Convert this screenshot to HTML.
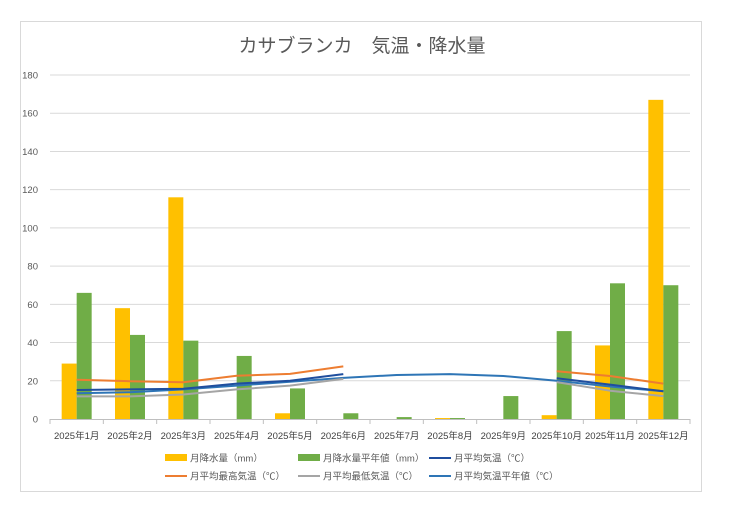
<!DOCTYPE html>
<html><head><meta charset="utf-8"><style>
html,body{margin:0;padding:0;background:#fff}
svg{display:block;font-family:"Liberation Sans","Noto Sans CJK JP",sans-serif}
</style></head><body>
<svg id="c" width="730" height="506" viewBox="0 0 730 506" xmlns="http://www.w3.org/2000/svg">
<rect x="20.5" y="21.5" width="681" height="470" fill="#fff" stroke="#d9d9d9"/>
<text x="362" y="52" font-size="19" fill="#595959" text-anchor="middle">カサブランカ　気温・降水量</text>
<g id="g"></g>
</svg>
<script>
var g=document.getElementById('g'),ns='http://www.w3.org/2000/svg',h='';
var X0=50,W=640/12,Y0=419,S=(419-75)/180;
function y(v){return Y0-v*S}
for(var v=0;v<=180;v+=20){
 if(v>0)h+='<line x1="50" x2="690" y1="'+y(v)+'" y2="'+y(v)+'" stroke="#d9d9d9"/>';
 h+='<text x="38" y="'+(y(v)+3.5)+'" font-size="9.5" fill="#595959" text-anchor="end">'+v+'</text>';
}
h+='<line x1="50" x2="690" y1="419.5" y2="419.5" stroke="#bfbfbf"/>';
for(var i=0;i<=12;i++){var xx=X0+i*W;h+='<line x1="'+xx+'" x2="'+xx+'" y1="419" y2="424" stroke="#bfbfbf"/>';}
var p=[29,58,116,0,3,0,0,0.5,0,2,38.5,167],n=[66,44,41,33,16,3,1,0.5,12,46,71,70];
for(var i=0;i<12;i++){var c=X0+(i+.5)*W;
 if(p[i]>0)h+='<rect x="'+(c-15)+'" y="'+y(p[i])+'" width="15" height="'+(p[i]*S)+'" fill="#ffc000"/>';
 h+='<rect x="'+c+'" y="'+y(n[i])+'" width="15" height="'+(n[i]*S)+'" fill="#70ad47"/>';
 h+='<text x="'+c+'" y="439" font-size="9.5" fill="#404040" text-anchor="middle">2025年'+(i+1)+'月</text>';
}
function line(d,col,w){var seg=[],out='';
 for(var i=0;i<=12;i++){if(i<12&&d[i]!=null)seg.push((X0+(i+.5)*W).toFixed(1)+','+y(d[i]).toFixed(1));
  else{if(seg.length>1)out+='<polyline points="'+seg.join(' ')+'" fill="none" stroke="'+col+'" stroke-width="'+w+'" stroke-linejoin="round"/>';seg=[];}}
 return out;}
var N=null;
h+=line([13.5,14,15.5,17.5,19.5,21.5,23,23.5,22.5,20,17,14.5],'#2e75b6',2);
h+=line([11.8,11.8,12.8,15.5,17.5,21,N,N,N,19.3,14.8,12],'#a5a5a5',2);
h+=line([20.5,19.8,19.2,22.6,23.6,27.5,N,N,N,25,22.5,18.5],'#ed7d31',2);
h+=line([15.2,15.5,15.8,18.5,20,23.5,N,N,N,21.3,18,14.5],'#1f4e9e',2);
// legend
function lg(x,yy,t,col,bar){
 h+=bar?'<rect x="'+x+'" y="'+(yy-4)+'" width="22" height="7" fill="'+col+'"/>':'<line x1="'+x+'" x2="'+(x+22)+'" y1="'+yy+'" y2="'+yy+'" stroke="'+col+'" stroke-width="2"/>';
 h+='<text x="'+(x+25)+'" y="'+(yy+3.5)+'" font-size="9.5" fill="#595959">'+t+'</text>';}
lg(165,458,'月降水量（mm）','#ffc000',1);
lg(298,458,'月降水量平年値（mm）','#70ad47',1);
lg(429,458,'月平均気温（℃）','#1f4e9e',0);
lg(165,476,'月平均最高気温（℃）','#ed7d31',0);
lg(298,476,'月平均最低気温（℃）','#a5a5a5',0);
lg(429,476,'月平均気温平年値（℃）','#2e75b6',0);
g.innerHTML=h;
</script>
</body></html>
